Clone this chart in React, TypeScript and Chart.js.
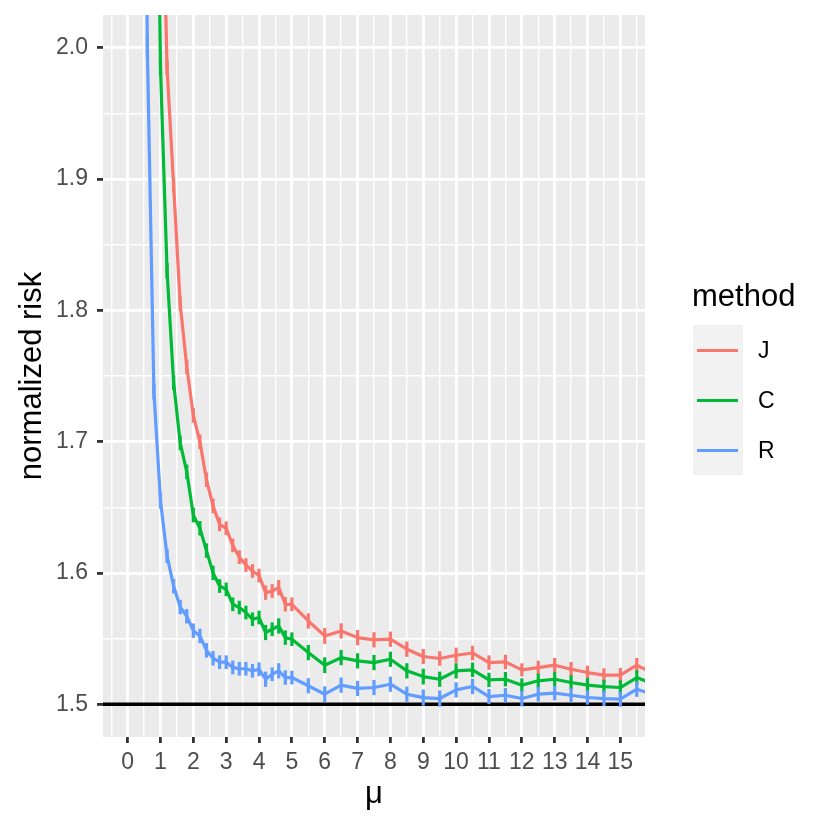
import React, { useEffect, useRef } from 'react';
import { Chart, registerables } from 'chart.js';

Chart.register(...registerables);

// mu values shared by all three methods
const mu = [
    0.2, 0.4, 0.6, 0.8, 1.0, 1.2, 1.4, 1.6, 1.8, 2.0,
    2.2, 2.4, 2.6, 2.8, 3.0, 3.2, 3.4, 3.6, 3.8, 4.0,
    4.2, 4.4, 4.6, 4.8, 5.0, 5.5, 6, 6.5, 7, 7.5,
    8, 8.5, 9, 9.5, 10, 10.5, 11, 11.5, 12, 12.5,
    13, 13.5, 14, 14.5, 15, 15.5, 16
];

const riskJ = [
    8, 5, 3.5, 2.7, 2.2, 1.985, 1.895, 1.805, 1.757, 1.72,
    1.70, 1.671, 1.651, 1.637, 1.634, 1.621, 1.612, 1.606, 1.6015, 1.598,
    1.585, 1.5862, 1.5888, 1.5761, 1.5761, 1.5634, 1.552, 1.5558, 1.5507, 1.549,
    1.5495, 1.5419, 1.5363, 1.5348, 1.5373, 1.539, 1.5317, 1.5322, 1.5261, 1.5279,
    1.5297, 1.5266, 1.5241, 1.5221, 1.5221, 1.5297, 1.5235
];
const riskC = [
    6, 4, 3, 2.35, 1.985, 1.83, 1.745, 1.699, 1.677, 1.644,
    1.634, 1.617, 1.6, 1.59, 1.5875, 1.5761, 1.5736, 1.5698, 1.5647, 1.566,
    1.5546, 1.5571, 1.5596, 1.5507, 1.5495, 1.5393, 1.5297, 1.5355, 1.533, 1.5317,
    1.5342, 1.5254, 1.521, 1.519, 1.5254, 1.5262, 1.5185, 1.519, 1.5145, 1.5178,
    1.519, 1.5165, 1.5145, 1.5134, 1.5127, 1.5203, 1.5153
];
const riskR = [
    4.5, 2.6, 2.0, 1.738, 1.655, 1.613, 1.59, 1.574, 1.567, 1.556,
    1.552, 1.541, 1.535, 1.532, 1.532, 1.528, 1.527, 1.527, 1.5254, 1.5266,
    1.519, 1.5228, 1.5254, 1.5203, 1.5203, 1.514, 1.5076, 1.5145, 1.512, 1.5127,
    1.5152, 1.5076, 1.505, 1.5043, 1.5109, 1.5135, 1.5058, 1.5068, 1.5043, 1.5076,
    1.5084, 1.5068, 1.5051, 1.5043, 1.5038, 1.5114, 1.5073
];

// half-length of the error bars
const errJ = [
    0.02, 0.012, 0.008, 0.006, 0.006, 0.006, 0.0055, 0.0055, 0.0055, 0.0055,
    0.0055, 0.0055, 0.0055, 0.0052, 0.0052, 0.0052, 0.0052, 0.0052, 0.0052, 0.0052,
    0.0055, 0.0052, 0.0058, 0.0055, 0.0052, 0.0058, 0.006, 0.0058, 0.0058, 0.0058,
    0.0058, 0.0058, 0.0058, 0.0055, 0.0058, 0.0055, 0.0055, 0.0055, 0.005, 0.0052,
    0.0055, 0.0055, 0.0052, 0.0052, 0.0055, 0.0055, 0.0055
];
const errC = [
    0.02, 0.012, 0.008, 0.006, 0.006, 0.006, 0.0055, 0.0055, 0.0055, 0.0055,
    0.0055, 0.0055, 0.0055, 0.0052, 0.0052, 0.0052, 0.0052, 0.0052, 0.0052, 0.0052,
    0.0058, 0.0052, 0.0058, 0.0055, 0.0052, 0.0058, 0.006, 0.0058, 0.0058, 0.0058,
    0.0058, 0.0058, 0.006, 0.0058, 0.0058, 0.0055, 0.0055, 0.0055, 0.0052, 0.0055,
    0.0055, 0.0055, 0.0055, 0.0052, 0.0055, 0.0055, 0.0055
];
const errR = [
    0.02, 0.012, 0.008, 0.006, 0.006, 0.0055, 0.0055, 0.0055, 0.0055, 0.0055,
    0.0055, 0.0055, 0.0055, 0.0052, 0.0052, 0.0052, 0.0052, 0.0052, 0.0052, 0.0052,
    0.0058, 0.0052, 0.0058, 0.0055, 0.0052, 0.0058, 0.006, 0.0058, 0.0058, 0.0058,
    0.0058, 0.0058, 0.0062, 0.0062, 0.0058, 0.0058, 0.0058, 0.0055, 0.006, 0.0055,
    0.0055, 0.0055, 0.0055, 0.0058, 0.0058, 0.0058, 0.0058
];

const methods = ['J', 'C', 'R'];
const methodColors = ['#F8766D', '#00BA38', '#619CFF'];

const xBreaks = [0, 1, 2, 3, 4, 5, 6, 7, 8, 9, 10, 11, 12, 13, 14, 15];
const xMinorBreaks = [-0.5, 0.5, 1.5, 2.5, 3.5, 4.5, 5.5, 6.5, 7.5, 8.5, 9.5, 10.5, 11.5, 12.5, 13.5, 14.5, 15.5];
const yBreaks = [1.5, 1.6, 1.7, 1.8, 1.9, 2.0];
const yMinorBreaks = [1.55, 1.65, 1.75, 1.85, 1.95];
const referenceLevel = 1.5;

const FONT = '"Liberation Sans", Arial, Helvetica, sans-serif';
const TICK_SIZE = 23;
const TITLE_SIZE = 31;

const isMajor = (v: number, breaks: number[]) => breaks.some(b => Math.abs(b - v) < 1e-9);

const series = [
    { values: riskJ, err: errJ },
    { values: riskC, err: errC },
    { values: riskR, err: errR },
];

const panelPlugin = {
    id: 'panel',
    beforeDraw(chart: any) {
        const { ctx, chartArea } = chart;
        ctx.save();
        ctx.fillStyle = '#EBEBEB';
        ctx.fillRect(chartArea.left, chartArea.top, chartArea.width, chartArea.height);
        ctx.restore();
    },
    beforeDatasetsDraw(chart: any) {
        // black reference line at 1.5
        const { ctx, chartArea, scales } = chart;
        const py = scales.y.getPixelForValue(referenceLevel);
        ctx.save();
        ctx.strokeStyle = '#000000';
        ctx.lineWidth = 3.5;
        ctx.beginPath();
        ctx.moveTo(chartArea.left, py);
        ctx.lineTo(chartArea.right, py);
        ctx.stroke();
        ctx.restore();
    },
};

const errorBarPlugin = {
    id: 'errorBars',
    afterDatasetsDraw(chart: any) {
        const { ctx, chartArea, scales } = chart;
        ctx.save();
        ctx.beginPath();
        ctx.rect(chartArea.left, chartArea.top, chartArea.width, chartArea.height);
        ctx.clip();
        ctx.lineWidth = 3.2;
        ctx.lineCap = 'butt';
        series.forEach((s, si) => {
            ctx.strokeStyle = methodColors[si];
            s.values.forEach((v, i) => {
                const px = scales.x.getPixelForValue(mu[i]);
                ctx.beginPath();
                ctx.moveTo(px, scales.y.getPixelForValue(v - s.err[i]));
                ctx.lineTo(px, scales.y.getPixelForValue(v + s.err[i]));
                ctx.stroke();
            });
        });
        ctx.restore();
    },
};

// keep tick labels from pushing the panel edges around
const noScalePadding = (scale: any) => {
    scale.paddingTop = 0;
    scale.paddingBottom = 0;
    scale.paddingLeft = 0;
    scale.paddingRight = 0;
};

const RiskChart: React.FC = () => {
    const chartRef = useRef<HTMLCanvasElement | null>(null);
    const chartInstanceRef = useRef<Chart | null>(null);

    useEffect(() => {
        if (!chartRef.current) return;
        const ctx = chartRef.current.getContext('2d');
        if (!ctx) return;
        if (chartInstanceRef.current) chartInstanceRef.current.destroy();

        Chart.defaults.font.family = FONT;

        chartInstanceRef.current = new Chart(ctx, {
            type: 'line',
            data: {
                datasets: series.map((s, si) => ({
                    label: methods[si],
                    data: s.values.map((v, i) => ({ x: mu[i], y: v })),
                    borderColor: methodColors[si],
                    borderWidth: 3.2,
                    borderJoinStyle: 'round' as const,
                    pointRadius: 0,
                    tension: 0,
                    fill: false,
                    clip: 0,
                    order: 3 - si,
                })),
            },
            options: {
                animation: false,
                responsive: false,
                events: [],
                layout: { padding: { top: 15, right: 185, bottom: 0, left: 0 } },
                plugins: {
                    legend: { display: false },
                    tooltip: { enabled: false },
                },
                scales: {
                    x: {
                        type: 'linear',
                        min: -0.75,
                        max: 15.75,
                        afterBuildTicks: (scale: any) => {
                            scale.ticks = [...xMinorBreaks, ...xBreaks].sort((a, b) => a - b).map(v => ({ value: v }));
                        },
                        afterFit: (scale: any) => { scale.height = 93; noScalePadding(scale); },
                        border: { display: false },
                        grid: {
                            color: '#FFFFFF',
                            lineWidth: (c: any) => (isMajor(c.tick.value, xBreaks) ? 2.8 : 1.4),
                            tickColor: (c: any) => (isMajor(c.tick.value, xBreaks) ? '#333333' : 'rgba(0,0,0,0)'),
                            tickWidth: 2.8,
                            tickLength: 6,
                        },
                        ticks: {
                            autoSkip: false,
                            maxRotation: 0,
                            padding: 6,
                            color: '#4D4D4D',
                            font: { size: TICK_SIZE },
                            callback: (v: any) => (isMajor(Number(v), xBreaks) ? String(v) : ''),
                        },
                        title: {
                            display: true,
                            text: 'μ',
                            color: '#000000',
                            font: { size: TITLE_SIZE },
                            padding: { top: 0, bottom: 17 },
                        },
                    },
                    y: {
                        type: 'linear',
                        min: 1.475,
                        max: 2.025,
                        afterBuildTicks: (scale: any) => {
                            scale.ticks = [...yMinorBreaks, ...yBreaks].sort((a, b) => a - b).map(v => ({ value: v }));
                        },
                        afterFit: (scale: any) => { scale.width = 103; noScalePadding(scale); },
                        border: { display: false },
                        grid: {
                            color: '#FFFFFF',
                            lineWidth: (c: any) => (isMajor(c.tick.value, yBreaks) ? 2.8 : 1.4),
                            tickColor: (c: any) => (isMajor(c.tick.value, yBreaks) ? '#333333' : 'rgba(0,0,0,0)'),
                            tickWidth: 2.8,
                            tickLength: 6,
                        },
                        ticks: {
                            autoSkip: false,
                            padding: 9,
                            color: '#4D4D4D',
                            font: { size: TICK_SIZE },
                            callback: (v: any) => (isMajor(Number(v), yBreaks) ? Number(v).toFixed(1) : ''),
                        },
                        title: {
                            display: true,
                            text: 'normalized risk',
                            color: '#000000',
                            font: { size: TITLE_SIZE },
                            padding: { top: 14, bottom: 0 },
                        },
                    },
                },
            },
            plugins: [panelPlugin, errorBarPlugin],
        } as any);

        return () => {
            if (chartInstanceRef.current) {
                chartInstanceRef.current.destroy();
                chartInstanceRef.current = null;
            }
        };
    }, []);

    const keyTop = 325;
    const keyHeight = 50;

    return (
        <div style={{ position: 'absolute', left: 0, top: 0, width: 830, height: 830, background: '#FFFFFF', fontFamily: FONT }}>
            <canvas ref={chartRef} width={830} height={830} style={{ display: 'block' }}></canvas>
            <div style={{ position: 'absolute', left: 692, top: 280, fontSize: TITLE_SIZE, lineHeight: '31px', color: '#000000' }}>method</div>
            <div style={{ position: 'absolute', left: 693, top: keyTop, width: 50, height: keyHeight * methods.length, background: '#F2F2F2' }}></div>
            {methods.map((m, i) => {
                const cy = keyTop + keyHeight * i + keyHeight / 2;
                return (
                    <React.Fragment key={m}>
                        <div style={{ position: 'absolute', left: 697, top: cy - 1.5, width: 41, height: 3, background: methodColors[i] }}></div>
                        <div style={{ position: 'absolute', left: 758, top: cy - 11.5, fontSize: TICK_SIZE, lineHeight: '23px', color: '#000000' }}>{m}</div>
                    </React.Fragment>
                );
            })}
        </div>
    );
};

export default function App() {
    return <RiskChart />;
}
